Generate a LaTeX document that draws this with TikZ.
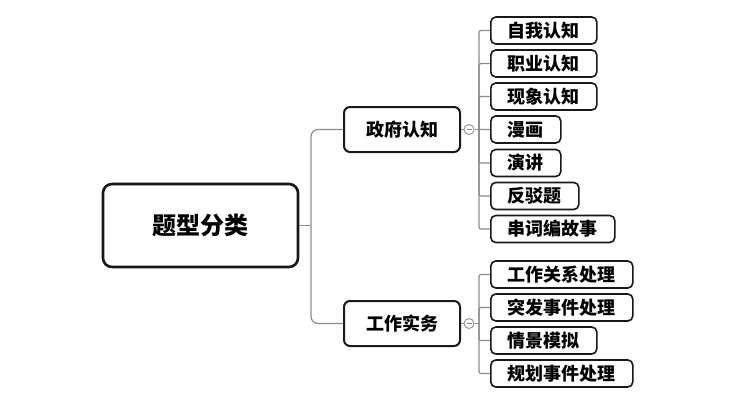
\documentclass[tikz,border=0pt]{standalone}
\usepackage{fontspec}
\newfontfamily\cjk{Noto Sans CJK SC}
\begin{document}
\begin{tikzpicture}[x=1pt,y=-1pt,
  rootbox/.style={draw=black!90, line width=2.6pt, rounded corners=9pt, minimum width=195pt, minimum height=83pt, inner sep=0pt, font=\cjk\bfseries\fontsize{24pt}{28pt}\selectfont},
  branchbox/.style={draw=black!90, line width=2pt, rounded corners=6pt, minimum width=116pt, minimum height=45pt, inner sep=0pt, font=\cjk\bfseries\fontsize{18pt}{22pt}\selectfont},
  leafbox/.style={draw=black!90, line width=1.6pt, rounded corners=5pt, minimum height=27pt, inner xsep=17pt, inner ysep=0pt, anchor=west, font=\cjk\bfseries\fontsize{18pt}{22pt}\selectfont},
  conn/.style={draw=black!45, line width=1.2pt},
  fold/.style={circle, draw=black!40, line width=1pt, minimum size=10pt, inner sep=0pt,
    path picture={\draw[black!45, line width=1pt] ([xshift=-2.5pt]path picture bounding box.center) -- ([xshift=2.5pt]path picture bounding box.center);}}
]
\useasboundingbox (0,0) rectangle (756,400);
\fill[white] (0,0) rectangle (756,400);

\node[rootbox] (root) at (200.5,225.5) {题型分类};
\node[branchbox] (gov) at (402,129.5) {政府认知};
\node[branchbox] (work) at (402,323.5) {工作实务};

\coordinate (r1) at (311,225.5);
\draw[conn] (root.east) -- (r1);
\draw[conn, rounded corners=7pt] (r1) |- (gov.west);
\draw[conn, rounded corners=7pt] (r1) |- (work.west);

\node[fold] (c1) at (469,129.5) {};
\node[fold] (c2) at (469,323.5) {};
\draw[conn] (gov.east) -- (c1.west);
\draw[conn] (work.east) -- (c2.west);
\coordinate (b1) at (479,129.5);
\coordinate (b2) at (479,323.5);
\draw[conn] (c1.east) -- (b1);
\draw[conn] (c2.east) -- (b2);

\node[leafbox] (l1) at (490,30.5) {自我认知};
\node[leafbox] (l2) at (490,63.5) {职业认知};
\node[leafbox] (l3) at (490,96.5) {现象认知};
\node[leafbox] (l4) at (490,129.5) {漫画};
\node[leafbox] (l5) at (490,163) {演讲};
\node[leafbox] (l6) at (490,196) {反驳题};
\node[leafbox] (l7) at (490,229) {串词编故事};

\node[leafbox] (m1) at (490,274.5) {工作关系处理};
\node[leafbox] (m2) at (490,307.5) {突发事件处理};
\node[leafbox] (m3) at (490,340.5) {情景模拟};
\node[leafbox] (m4) at (490,373.5) {规划事件处理};

\foreach \n in {l1,l2,l3,l4,l5,l6,l7}{
  \draw[conn, rounded corners=2pt] (b1) |- (\n.west);
}
\foreach \n in {m1,m2,m3,m4}{
  \draw[conn, rounded corners=2pt] (b2) |- (\n.west);
}
\end{tikzpicture}
\end{document}
